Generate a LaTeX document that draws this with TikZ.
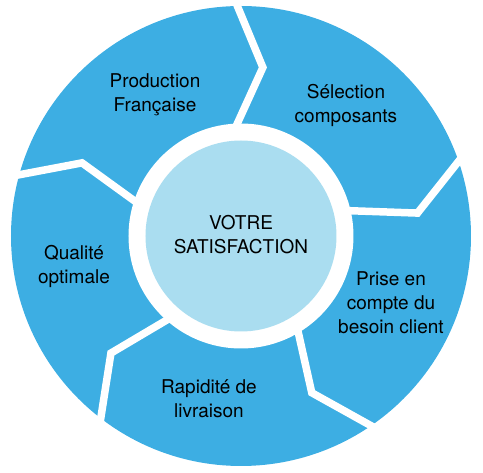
\documentclass[tikz,border=0pt]{standalone}
\usepackage{fontspec}
\setmainfont{TeX Gyre Heros}
\usetikzlibrary{calc}
\definecolor{ringblue}{RGB}{61,174,227}
\definecolor{coreblue}{RGB}{170,221,240}
\tikzset{
  gap/.style={white,line width=7.5pt},
  label/.style={align=center,font=\fontsize{19}{24}\selectfont}
}
\begin{document}
\begin{tikzpicture}[x=1pt,y=1pt]
        \useasboundingbox (-241,-237) rectangle (242,236);
        \fill[ringblue] (0,0) circle (230);
        % white breaks between the five steps
        \draw[gap] (95.5:100) -- (82.6:170) coordinate (k1) -- ($(k1)!1.3!(91:231)$);
        \draw[gap] (14.9:100) -- (7.4:178) coordinate (k2) -- ($(k2)!1.3!(19.1:231)$);
        \draw[gap] (-57:100) -- (-65.7:172) coordinate (k3) -- ($(k3)!1.3!(-55.7:229)$);
        \draw[gap] (-129.2:100) -- (-138:175) coordinate (k4) -- ($(k4)!1.3!(-127.3:232)$);
        \draw[gap] (164:100) -- (155.3:175) coordinate (k5) -- ($(k5)!1.3!(164.8:232)$);
        \fill[white] (0,0) circle (112.5);
        \fill[coreblue] (0,0) circle (95.5);
        \node[label] (votre) at (0,1) {VOTRE\\SATISFACTION};
        \node[label] (prod) at (-86,141) {Production\\Française};
        \node[label] (sel) at (105,131) {Sélection\\composants};
        \node[label] (prise) at (150,-67) {Prise en\\compte du\\besoin client};
        \node[label] (rapid) at (-32,-163) {Rapidité de\\livraison};
        \node[label] (qual) at (-167,-30) {Qualité\\optimale};
      \end{tikzpicture}
\end{document}
